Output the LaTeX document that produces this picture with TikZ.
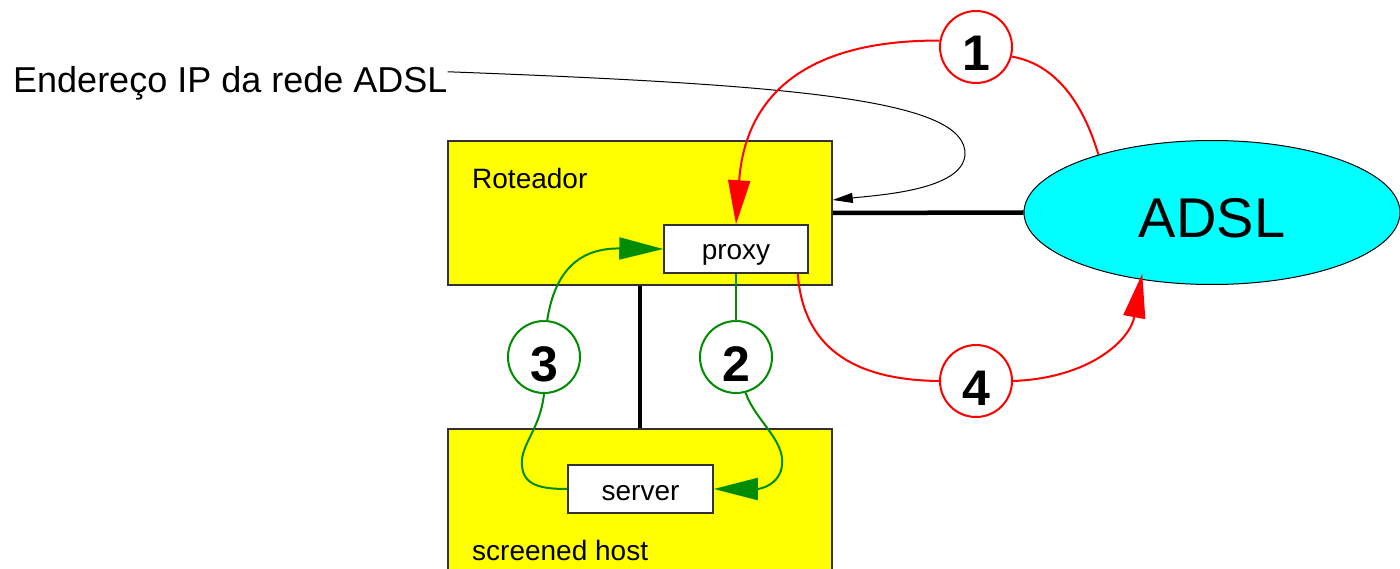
\documentclass[tikz,border=0pt]{standalone}
\usepackage{fontspec}
\setmainfont{Liberation Sans}
\usetikzlibrary{shapes.geometric,arrows.meta}
\definecolor{ylw}{RGB}{255,255,0}
\definecolor{cyn}{RGB}{0,255,255}
\definecolor{rd}{RGB}{255,0,0}
\definecolor{grn}{RGB}{0,140,0}
\definecolor{edge}{RGB}{50,50,50}
\tikzset{
  bigbox/.style={draw=edge, line width=1.5pt, fill=ylw, rectangle, inner sep=0pt},
  smallbox/.style={draw=edge, line width=1.5pt, fill=white, rectangle, inner sep=0pt,
    font=\fontsize{28}{32}\selectfont, text height=22pt, text depth=0pt},
  numcirc/.style={circle, draw, fill=white, line width=2pt, minimum size=72pt, inner sep=0pt,
    font=\fontsize{50}{56}\selectfont\bfseries, text height=48pt, text depth=0pt},
  redline/.style={draw=rd, line width=2pt},
  greenline/.style={draw=grn, line width=2pt},
  bigtip/.style={-{Triangle[length=44pt,width=22pt]}},
  boxlabel/.style={anchor=base west, inner sep=0pt, font=\fontsize{28}{32}\selectfont},
  thickline/.style={line width=4.5pt, black}
}
\begin{document}
\begin{tikzpicture}[x=1pt,y=-1pt]
\useasboundingbox (0,0) rectangle (1400,569);
\clip (0,0) rectangle (1400,569);
% boxes
\node[bigbox, minimum width=384pt, minimum height=144pt] (router) at (640,213) {};
\node[bigbox, minimum width=384pt, minimum height=200pt] (host) at (640,529) {};
\node[boxlabel] (rlabel) at (472,189) {Roteador};
\node[boxlabel] (hlabel) at (472,560) {screened host};
\node[smallbox, minimum width=144pt, minimum height=48pt] (proxy) at (736,249) {proxy};
\node[smallbox, minimum width=145pt, minimum height=48pt] (server) at (640.5,489) {server};
% ADSL
\node[ellipse, draw=black, line width=1pt, fill=cyn, minimum width=376pt, minimum height=144pt,
  inner sep=0pt, font=\fontsize{56}{62}\selectfont, text height=50pt, text depth=0pt] (adsl) at (1212,212.5) {ADSL};
% label
\node[anchor=base west, inner sep=0pt, font=\fontsize{36}{40}\selectfont] (iplabel) at (13,93) {Endereço IP da rede ADSL};
% circles
\node[numcirc, draw=rd] (c1) at (976,47) {1};
\node[numcirc, draw=grn] (c2) at (736,357) {2};
\node[numcirc, draw=grn] (c3) at (544,357) {3};
\node[numcirc, draw=rd] (c4) at (976,381) {4};
% plain connectors
\draw[thickline] (router.east) -- (adsl.west);
\draw[thickline] (router.south) -- (host.north);
\draw[line width=1pt, -{Triangle[length=20pt,width=10pt]}]
  ([yshift=12pt]iplabel.east) .. controls (800,85) and (968,100) .. (965,155)
  .. controls (962,190) and (880,195) .. ([yshift=13pt]router.east);
% red flow
\draw[redline, bigtip] (c1.170) .. controls (800,40) and (745,100) .. (proxy.north);
\draw[redline] (c1.-15) .. controls (1060,65) and (1085,110) .. (adsl.153);
\draw[redline] ([xshift=-11pt]proxy.south east) .. controls (803,345) and (850,380) .. (c4.west);
\draw[redline, bigtip] (c4.east) .. controls (1090,378) and (1130,340) .. ([yshift=6pt]adsl.224);
% green flow
\draw[greenline, bigtip] (c3.85) .. controls (555,270) and (580,248) .. (proxy.west);
\draw[greenline] (c3.south) .. controls (540,430) and (520,445) .. (522,465)
  .. controls (523,485) and (540,489) .. (server.west);
\draw[greenline] (proxy.south) -- (c2.north);
\draw[greenline, bigtip] (c2.-75) .. controls (755,420) and (785,440) .. (782,465)
  .. controls (780,485) and (760,489) .. (server.east);
\end{tikzpicture}
\end{document}
